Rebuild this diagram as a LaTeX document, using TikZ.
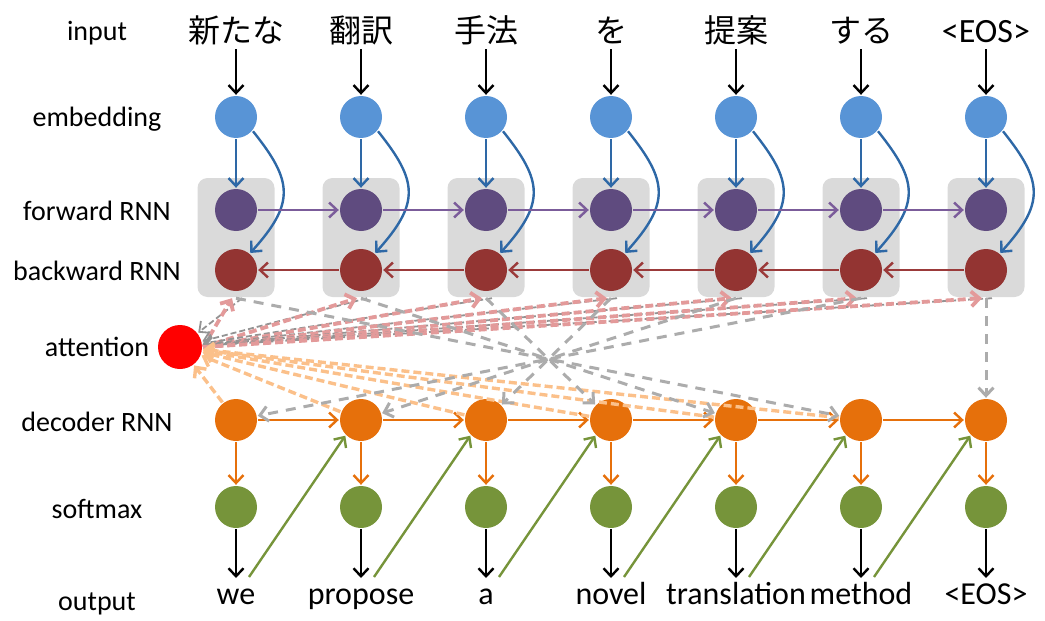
\documentclass[tikz,border=0pt]{standalone}
\usepackage{fontspec}
\setmainfont{Carlito}
\newfontfamily\jpfont{Noto Sans CJK JP}
\usetikzlibrary{arrows.meta}

\definecolor{embblue}{HTML}{5894D6}
\definecolor{embarrow}{HTML}{2E68A6}
\definecolor{fwpurple}{HTML}{5F4B7F}
\definecolor{fwarrow}{HTML}{7B5C9A}
\definecolor{bwred}{HTML}{933432}
\definecolor{bwarrow}{HTML}{9B3A3A}
\definecolor{decorange}{HTML}{E6700B}
\definecolor{smgreen}{HTML}{76943A}
\definecolor{attpinkc}{HTML}{E39A9A}
\definecolor{attorangec}{HTML}{FBC08A}
\definecolor{boxgray}{HTML}{DADADA}

\tikzset{
    unit/.style={circle, minimum size=21pt, inner sep=0pt},
    encbox/.style={rectangle, rounded corners=5pt, fill=boxgray,
        minimum width=38.5pt, minimum height=59.5pt, inner sep=0pt},
    rowlabel/.style={font=\fontsize{14}{16}\selectfont},
    inword/.style={anchor=base, inner sep=1pt, text depth=2pt,
        font=\fontsize{16}{18}\selectfont},
    outword/.style={anchor=north, inner sep=1pt, text height=11.5pt,
        font=\fontsize{16}{18}\selectfont},
    fwline/.style={fwarrow},
    bwline/.style={bwarrow},
    feedback/.style={smgreen},
    attgray/.style={gray!85, dash pattern=on 3pt off 1.5pt, line width=0.9pt},
    attpink/.style={attpinkc, dash pattern=on 4pt off 2pt, line width=1.9pt},
    attorng/.style={attorangec, dash pattern=on 4pt off 2pt, line width=1.7pt},
    alignline/.style={gray!65, dash pattern=on 5pt off 4pt, line width=1.5pt}
}

\begin{document}
\begin{tikzpicture}[x=0.5pt, y=-0.5pt, line width=1.2pt,
        >={Straight Barb[length=4pt, width=7.5pt]}]
    \useasboundingbox (0,0) rectangle (1045,621);
    \pgfmathsetmacro\colsep{125};

    % row labels
    \foreach \name/\ypos/\txt in {input/33/input, emb/119/embedding,
            fw/211/forward RNN, bw/271/backward RNN, att/347/attention,
            dec/422/decoder RNN, sm/509/softmax, out/604/output}
        \node[rowlabel] (lbl-\name) at (97,\ypos) {\txt};

    % encoder columns
    \foreach \i/\word in {1/{\jpfont 新たな}, 2/{\jpfont 翻訳},
            3/{\jpfont 手法}, 4/{\jpfont を}, 5/{\jpfont 提案},
            6/{\jpfont する}, 7/{\fontsize{17}{19}\selectfont <EOS>}} {
        \pgfmathsetmacro\x{111 + \colsep * \i}
        \node[encbox] (box\i) at (\x,237.5) {};
        \node[inword] (in\i) at (\x,42) {\word};
        \node[unit, fill=embblue] (emb\i) at (\x,117) {};
        \node[unit, fill=fwpurple] (fw\i) at (\x,210) {};
        \node[unit, fill=bwred] (bw\i) at (\x,270) {};
    }

    % decoder columns
    \foreach \i/\word in {1/we, 2/propose, 3/a, 4/novel,
            5/translation, 6/method, 7/{<EOS>}} {
        \pgfmathsetmacro\x{111 + \colsep * \i}
        \node[unit, fill=decorange] (dec\i) at (\x,420) {};
        \node[unit, fill=smgreen] (sm\i) at (\x,507) {};
        \node[outword] (out\i) at (\x,578) {\word};
        \coordinate (prev\i) at (\x + 13,577);
    }
    \node[unit, fill=red, minimum size=22pt] (att) at (180,347) {};

    % vertical flow
    \foreach \i in {1,...,7} {
        \draw[->] (in\i) -- (emb\i);
        \draw[->, embarrow] (emb\i) -- (fw\i);
        \draw[->, embarrow] (emb\i.-40) .. controls +(40,50) and
            +(45,-50) .. (bw\i.50);
        \draw[->, decorange] (dec\i) -- (sm\i);
        \draw[->] (sm\i) -- (out\i);
    }

    % recurrent links
    \foreach \i [evaluate=\i as \j using int(\i + 1)] in {1,...,6} {
        \draw[->, fwline] (fw\i) -- (fw\j);
        \draw[->, bwline] (bw\j) -- (bw\i);
        \draw[->, decorange] (dec\i) -- (dec\j);
        \draw[->, feedback] (prev\i) -- (dec\j.225);
    }

    % attention
    \foreach \i in {1,...,7} {
        \draw[->, attgray] ([xshift=3pt]box\i.south) -- (att);
        \draw[->, attpink] (att.east) -- ([xshift=-2pt]box\i.south);
    }
    \foreach \i in {1,...,6}
        \draw[->, attorng] (dec\i) -- (att);

    % alignments
    \foreach \i [evaluate=\i as \j using int(7 - \i)] in {1,...,6}
        \draw[->, alignline] (box\i.south) -- (dec\j);
    \draw[->, alignline] (box7) -- (dec7);
\end{tikzpicture}
\end{document}
